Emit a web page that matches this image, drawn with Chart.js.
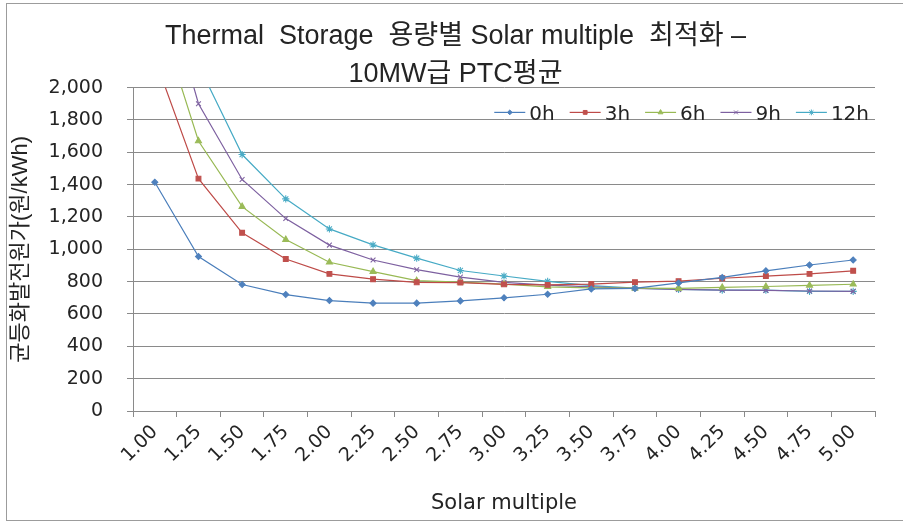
<!DOCTYPE html>
<html>
<head>
<meta charset="utf-8">
<script src="https://cdn.jsdelivr.net/npm/chart.js@4.4.1/dist/chart.umd.min.js"></script>
<style>
  html, body { margin: 0; padding: 0; background: #ffffff; }
  #wrap { width: 903px; height: 522px; }
</style>
</head>
<body>
<div id="wrap"><canvas id="c" width="903" height="522"></canvas></div>
<script>
// Solar multiple categories (x axis)
const solarMultiples = ['1.00','1.25','1.50','1.75','2.00','2.25','2.50','2.75','3.00',
                        '3.25','3.50','3.75','4.00','4.25','4.50','4.75','5.00'];

// Levelized cost of electricity (원/kWh) by thermal storage hours
const storage0h  = [1415, 955, 782, 720, 683, 667, 667, 681, 700, 722, 755, 758, 792, 826, 867, 903, 934];
const storage3h  = [2180, 1437, 1102, 940, 848, 815, 796, 794, 783, 780, 785, 797, 803, 821, 834, 848, 867];
const storage6h  = [2520, 1670, 1264, 1060, 920, 862, 806, 797, 785, 768, 762, 760, 758, 764, 770, 777, 784];
const storage9h  = [2850, 1900, 1432, 1190, 1026, 934, 874, 828, 796, 778, 768, 758, 752, 748, 746, 742, 740];
const storage12h = [3250, 2140, 1586, 1312, 1126, 1027, 945, 869, 835, 802, 775, 760, 752, 748, 747, 740, 740];

const seriesNames = ['0h', '3h', '6h', '9h', '12h'];

const TEXT = '#242424';
const GRID = '#8a8a8a';
const TICK_FONT = '"DejaVu Sans", "Noto Sans CJK KR", sans-serif';
const TITLE_FONT = '"Liberation Sans", "Noto Sans CJK KR", sans-serif';

const styles = [
  { color: '#4a7ebb', marker: '#4f81bd', point: 'rectRot',  r: 3.0 },
  { color: '#be4b48', marker: '#c0504d', point: 'rect',     r: 3.4 },
  { color: '#98b954', marker: '#9bbb59', point: 'triangle', r: 3.5 },
  { color: '#7d60a0', marker: '#8064a2', point: 'crossRot', r: 3.4 },
  { color: '#46aac5', marker: '#4bacc6', point: 'star',     r: 3.6 }
];

const seriesValues = [storage0h, storage3h, storage6h, storage9h, storage12h];
const datasets = seriesValues.map((vals, i) => ({
  label: seriesNames[i],
  data: vals,
  borderColor: styles[i].color,
  backgroundColor: styles[i].marker,
  borderWidth: 1.2,
  pointStyle: styles[i].point,
  pointRadius: styles[i].r,
  pointBorderColor: styles[i].marker,
  pointBackgroundColor: styles[i].marker,
  pointBorderWidth: 1.1,
  tension: 0
}));

// White background and thin outer frame
const frame = {
  id: 'frame',
  beforeDraw(chart) {
    const g = chart.ctx;
    g.save();
    g.fillStyle = '#ffffff';
    g.fillRect(0, 0, chart.width, chart.height);
    g.strokeStyle = '#9c9c9c';
    g.lineWidth = 1;
    g.strokeRect(6.5, 3.5, chart.width, chart.height - 5);
    g.restore();
  }
};

// Single-row legend inside the plot, top right: line + marker, then the label
const inlineLegend = {
  id: 'inlineLegend',
  afterDatasetsDraw(chart, args, opts) {
    const g = chart.ctx;
    const area = chart.chartArea;
    const symW = opts.symbolWidth, gap = opts.gap, itemGap = opts.itemGap;
    g.save();
    g.font = `${opts.fontSize}px ${TICK_FONT}`;
    const items = chart.data.datasets.map((ds, i) => ({
      ds, st: styles[i], w: g.measureText(ds.label).width
    }));
    const total = items.reduce((s, it) => s + symW + gap + it.w, 0) + itemGap * (items.length - 1);
    let x = area.right - opts.rightInset - total;
    const baseY = area.top + opts.baselineOffset;
    const midY = baseY - opts.fontSize * 0.36;
    items.forEach(it => {
      g.strokeStyle = it.st.color;
      g.lineWidth = 1.2;
      g.beginPath();
      g.moveTo(x, midY);
      g.lineTo(x + symW, midY);
      g.stroke();
      g.fillStyle = it.st.marker;
      g.strokeStyle = it.st.marker;
      g.lineWidth = 1;
      Chart.helpers.drawPoint(g, {
        pointStyle: it.st.point, radius: it.st.r * 0.8, rotation: 0, borderWidth: 1
      }, x + symW / 2, midY);
      x += symW + gap;
      g.fillStyle = TEXT;
      g.textBaseline = 'alphabetic';
      g.textAlign = 'left';
      g.fillText(it.ds.label, x, baseY);
      x += it.w + itemGap;
    });
    g.restore();
  }
};

new Chart(document.getElementById('c'), {
  type: 'line',
  data: { labels: solarMultiples, datasets },
  plugins: [frame, inlineLegend],
  options: {
    responsive: false,
    animation: false,
    devicePixelRatio: 1,
    layout: { padding: { left: 8, right: 0, top: 8, bottom: 0 } },
    plugins: {
      title: {
        display: true,
        text: ['Thermal  Storage  용량별 Solar multiple  최적화 –', '10MW급 PTC평균'],
        color: TEXT,
        font: { family: TITLE_FONT, size: 27, weight: 'normal', lineHeight: 1.4 },
        padding: { top: 10, bottom: -6 }
      },
      legend: { display: false },
      inlineLegend: {
        symbolWidth: 31, gap: 4, itemGap: 15, fontSize: 20,
        rightInset: 6, baselineOffset: 32
      },
      tooltip: { enabled: false }
    },
    scales: {
      x: {
        type: 'category',
        offset: true,
        grid: {
          offset: true,
          drawOnChartArea: false,
          drawTicks: true,
          tickLength: 6,
          color: GRID
        },
        border: { display: true, color: GRID },
        ticks: {
          color: TEXT,
          font: { family: TICK_FONT, size: 19 },
          maxRotation: 45,
          minRotation: 45,
          padding: 4,
          autoSkip: false
        },
        title: {
          display: true,
          text: 'Solar multiple',
          color: TEXT,
          font: { family: TICK_FONT, size: 21 },
          padding: { top: 0, bottom: 6 }
        },
        afterFit(scale) { scale.height = 111; }
      },
      y: {
        min: 0,
        max: 2000,
        grid: { color: GRID, lineWidth: 1, tickLength: 6, drawTicks: true },
        border: { display: true, color: GRID },
        ticks: {
          stepSize: 200,
          color: TEXT,
          padding: 24,
          font: { family: TICK_FONT, size: 19 },
          callback: v => v.toLocaleString('en-US')
        },
        title: {
          display: true,
          text: '균등화발전원가(원/kWh)',
          color: TEXT,
          font: { family: TITLE_FONT, size: 22 },
          padding: { top: 0, bottom: 0 }
        },
        afterFit(scale) { scale.width = 125; }
      },
      yRight: {
        position: 'right',
        display: true,
        grid: { display: false, drawTicks: false },
        border: { display: false },
        ticks: { display: false },
        afterFit(scale) { scale.width = 28; }
      }
    }
  }
});
</script>
</body>
</html>
